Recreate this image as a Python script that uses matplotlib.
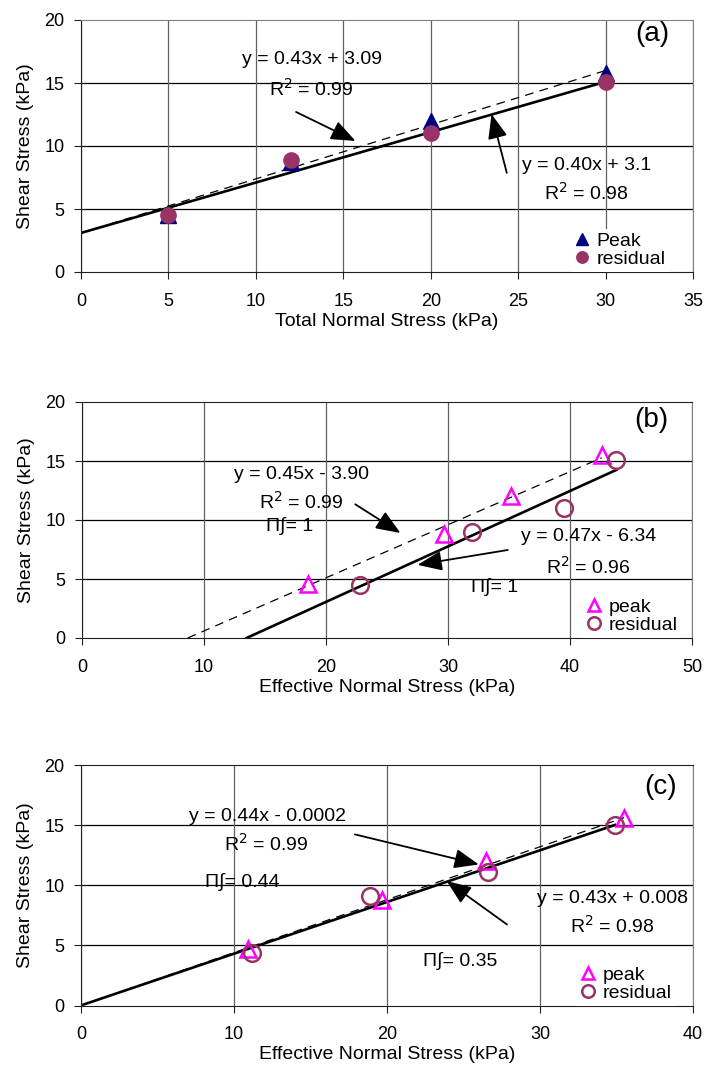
import numpy as np
import matplotlib
matplotlib.use("Agg")
import matplotlib.pyplot as plt

plt.rcParams['font.family'] = ['Liberation Sans', 'DejaVu Sans']

# panel (a): total normal stress
a_peak_x = [5, 12, 20, 30]
a_peak_y = [4.5, 8.7, 12.0, 15.8]
a_res_x = [5, 12, 20, 30]
a_res_y = [4.5, 8.9, 11.0, 15.1]
a_peak_fit = [0.43, 3.09]
a_res_fit = [0.40, 3.1]

# panel (b): effective normal stress
b_peak_x = [18.5, 29.7, 35.2, 42.6]
b_peak_y = [4.6, 8.8, 12.0, 15.5]
b_res_x = [22.8, 32.0, 39.5, 43.8]
b_res_y = [4.5, 9.0, 11.0, 15.1]
b_peak_fit = [0.45, -3.90]
b_res_fit = [0.47, -6.34]

# panel (c): effective normal stress
c_peak_x = [10.9, 19.7, 26.5, 35.5]
c_peak_y = [4.7, 8.8, 12.0, 15.6]
c_res_x = [11.2, 18.9, 26.6, 34.9]
c_res_y = [4.4, 9.1, 11.1, 15.0]
c_peak_fit = [0.44, -0.0002]
c_res_fit = [0.43, 0.008]

PURPLE = '#993366'
MAGENTA = '#ff00ff'
NAVY = '#000080'
FS = 14

fig = plt.figure(figsize=(7.07, 10.74), dpi=100)
# axes boxes in pixels: left, top, right, bottom
def add_ax(l, t, r, b):
  W, H = 707.0, 1074.0
  return fig.add_axes([l / W, 1 - b / H, (r - l) / W, (b - t) / H])

ax_a = add_ax(81, 20, 693, 272)
ax_b = add_ax(82, 402, 692, 638)
ax_c = add_ax(81, 765, 693, 1005.5)


def style_axes(ax, xmax, xstep, xlabel, topcol):
  ax.set_xlim(0, xmax)
  ax.set_ylim(0, 20)
  ax.set_xticks(np.arange(0, xmax + 1, xstep))
  ax.set_yticks(np.arange(0, 21, 5))
  ax.xaxis.grid(True, color='#606060', lw=0.9)
  for yv in [5, 10, 15]:
    ax.axhline(yv, color='black', lw=0.9, zorder=0.5)
  ax.set_axisbelow(True)
  ax.spines['left'].set_color('#202020')
  ax.spines['bottom'].set_color('#202020')
  ax.spines['right'].set_color('#808080')
  ax.spines['top'].set_color(topcol)
  ax.tick_params(labelsize=13, length=5, color='#202020')
  ax.tick_params(axis='x', pad=10)
  ax.tick_params(axis='y', pad=7)
  ax.set_xlabel(xlabel, fontsize=FS, labelpad=2)
  ax.set_ylabel('Shear Stress (kPa)', fontsize=FS, labelpad=7)


def fit_line(ax, fit, x0, x1, ls):
  xs = np.array([x0, x1])
  if ls == '--':
    ax.plot(xs, fit[0] * xs + fit[1], color='black', lw=0.9, dashes=(7, 5), zorder=2)
  else:
    ax.plot(xs, fit[0] * xs + fit[1], color='black', lw=1.9, zorder=2)


def arrow(ax, tail, tip):
  ax.annotate('', xy=tip, xytext=tail,
              arrowprops=dict(arrowstyle='-|>,head_length=1.0,head_width=0.4',
                              mutation_scale=15, color='black', lw=1.3,
                              shrinkA=0, shrinkB=0))


def legend(ax, h1, h2, l1, l2, x0):
  lg = ax.legend([h1, h2], [l1, l2], loc='lower left', bbox_to_anchor=(x0, 0.0),
                 fontsize=FS, handlelength=0.8, handletextpad=0.35, labelspacing=0.02,
                 borderaxespad=0.0, borderpad=0.2, frameon=True, fancybox=False,
                 markerscale=0.75)
  lg.get_frame().set_edgecolor('none')
  lg.get_frame().set_facecolor('white')
  lg.get_frame().set_alpha(1)


def label(ax, x, y, s, size=FS):
  ax.text(x, y, s, ha='center', va='center', fontsize=size)


# ---- (a)
style_axes(ax_a, 35, 5, 'Total Normal Stress (kPa)', '#808080')
fit_line(ax_a, a_peak_fit, 0, 30, '--')
fit_line(ax_a, a_res_fit, 0, 30, '-')
h1, = ax_a.plot(a_peak_x, a_peak_y, '^', color=NAVY, ms=11, ls='none', zorder=3)
h2, = ax_a.plot(a_res_x, a_res_y, 'o', color=PURPLE, ms=11, ls='none', zorder=3)
label(ax_a, 13.2, 16.9, 'y = 0.43x + 3.09')
label(ax_a, 13.15, 14.57, 'R$^2$ = 0.99')
arrow(ax_a, (12.3, 12.7), (15.7, 10.4))
label(ax_a, 28.9, 8.48, 'y = 0.40x + 3.1')
label(ax_a, 28.9, 6.28, 'R$^2$ = 0.98')
arrow(ax_a, (24.35, 7.87), (23.48, 12.53))
label(ax_a, 32.7, 18.9, '(a)', 20)
legend(ax_a, h1, h2, 'Peak', 'residual', 0.80)

# ---- (b)
style_axes(ax_b, 50, 10, 'Effective Normal Stress (kPa)', '#202020')
fit_line(ax_b, b_peak_fit, -b_peak_fit[1] / b_peak_fit[0], b_peak_x[-1], '--')
fit_line(ax_b, b_res_fit, -b_res_fit[1] / b_res_fit[0], b_res_x[-1], '-')
h1, = ax_b.plot(b_peak_x, b_peak_y, '^', mfc='none', mec=MAGENTA, mew=1.8, ms=12, ls='none', zorder=3)
h2, = ax_b.plot(b_res_x, b_res_y, 'o', mfc='none', mec=PURPLE, mew=1.8, ms=12, ls='none', zorder=3)
label(ax_b, 18.0, 13.84, 'y = 0.45x - 3.90')
label(ax_b, 18.0, 11.58, 'R$^2$ = 0.99')
label(ax_b, 17.0, 9.46, 'Π∫= 1')
arrow(ax_b, (22.4, 11.33), (26.1, 8.9))
label(ax_b, 41.5, 8.62, 'y = 0.47x - 6.34')
label(ax_b, 41.5, 6.07, 'R$^2$ = 0.96')
label(ax_b, 33.8, 4.3, 'Π∫= 1')
arrow(ax_b, (34.9, 7.46), (27.5, 6.2))
label(ax_b, 46.7, 18.5, '(b)', 20)
legend(ax_b, h1, h2, 'peak', 'residual', 0.82)

# ---- (c)
style_axes(ax_c, 40, 10, 'Effective Normal Stress (kPa)', '#202020')
fit_line(ax_c, c_peak_fit, 0, c_peak_x[-1], '--')
fit_line(ax_c, c_res_fit, 0, c_res_x[-1], '-')
h1, = ax_c.plot(c_peak_x, c_peak_y, '^', mfc='none', mec=MAGENTA, mew=1.8, ms=12, ls='none', zorder=3)
h2, = ax_c.plot(c_res_x, c_res_y, 'o', mfc='none', mec=PURPLE, mew=1.8, ms=12, ls='none', zorder=3)
label(ax_c, 12.16, 15.7, 'y = 0.44x - 0.0002')
label(ax_c, 12.1, 13.45, 'R$^2$ = 0.99')
label(ax_c, 10.56, 10.26, 'Π∫= 0.44')
arrow(ax_c, (17.9, 14.23), (26.0, 11.73))
label(ax_c, 34.75, 8.88, 'y = 0.43x + 0.008')
label(ax_c, 34.75, 6.66, 'R$^2$ = 0.98')
label(ax_c, 24.76, 3.74, 'Π∫= 0.35')
arrow(ax_c, (27.84, 6.74), (23.9, 10.35))
label(ax_c, 37.9, 18.2, '(c)', 20)
legend(ax_c, h1, h2, 'peak', 'residual', 0.81)

fig.savefig('out.png', dpi=100)
